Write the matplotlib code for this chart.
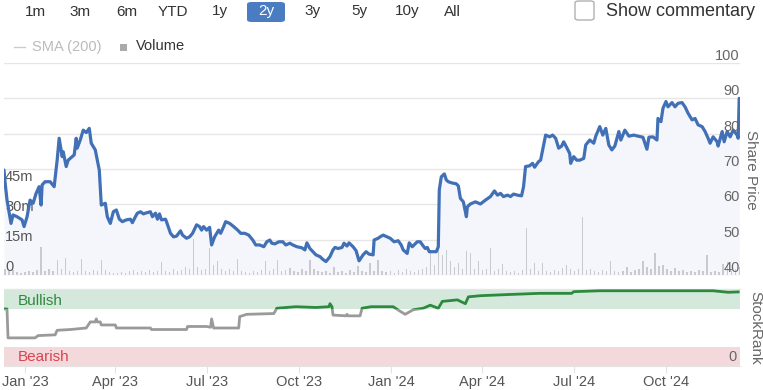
import numpy as np
import matplotlib
matplotlib.use("Agg")
import matplotlib.pyplot as plt
import matplotlib.dates as mdates
from matplotlib.patches import FancyBboxPatch, Rectangle
import datetime as dt

plt.rcParams['font.family'] = ['Liberation Sans', 'DejaVu Sans']

# ---------------- data ----------------
# days counted from 1 Jan 2023
price_days = [
    -21, -20, -18, -14, -12, -8, -3, -1, 2, 5,
    8, 11, 14, 16, 17, 20, 25, 29, 32, 34,
    37, 38, 41, 43, 47, 49, 51, 52, 55, 58,
    61, 64, 66, 70, 72, 74, 76, 80, 82, 85,
    88, 91, 94, 97, 101, 105, 107, 110, 112, 115,
    118, 121, 125, 127, 130, 132, 134, 136, 140, 141,
    145, 148, 151, 155, 157, 161, 164, 167, 171, 174,
    176, 178, 181, 184, 186, 189, 193, 195, 198, 200,
    204, 208, 212, 215, 219, 223, 227, 230, 234, 238,
    241, 244, 246, 249, 253, 257, 260, 264, 267, 271,
    276, 279, 281, 284, 287, 290, 294, 297, 300, 304,
    307, 309, 312, 316, 318, 321, 323, 327, 330, 333,
    337, 340, 343, 347, 348, 352, 354, 357, 364, 368,
    372, 375, 377, 381, 383, 386, 391, 394, 397, 399,
    401, 403, 407, 410, 412, 413, 415, 418, 420, 422,
    425, 430, 432, 434, 437, 440, 441, 444, 449, 454,
    459, 464, 468, 471, 474, 477, 481, 484, 487, 491,
    495, 497, 499, 503, 506, 508, 512, 514, 517, 519,
    523, 526, 529, 532, 535, 537, 540, 543, 544, 547,
    550, 553, 557, 559, 563, 567, 569, 573, 576, 579,
    582, 585, 588, 592, 594, 598, 602, 607, 611, 616,
    620, 622, 626, 630, 631, 634, 636, 639, 641, 645,
    648, 651, 655, 658, 661, 665, 668, 671, 675, 678,
    681, 683, 686, 690, 691, 695, 697, 700, 703, 706,
    710, 711, 712]
price_values = [
    69.7, 66.4, 61.2, 54.6, 57.0, 56.5, 55.6, 53.7, 56.5, 61.2,
    60.3, 63.1, 65.0, 59.8, 65.5, 66.4, 66.4, 65.0, 72.5, 78.7,
    73.5, 74.9, 70.7, 72.5, 73.5, 74.0, 78.7, 75.9, 78.2, 81.0,
    80.3, 81.5, 77.3, 75.4, 72.5, 69.7, 59.8, 60.3, 56.5, 54.6,
    57.9, 58.4, 55.8, 55.1, 55.6, 55.8, 54.8, 56.5, 57.5, 57.9,
    57.3, 57.6, 57.9, 56.5, 57.5, 55.8, 57.3, 55.6, 55.8, 55.1,
    51.8, 50.8, 51.0, 52.5, 51.3, 50.4, 50.8, 51.8, 54.2, 53.7,
    52.7, 53.7, 52.7, 53.5, 48.5, 50.8, 52.7, 51.8, 53.7, 55.1,
    54.6, 53.7, 52.7, 51.8, 51.8, 51.3, 49.9, 48.5, 48.5, 48.0,
    49.4, 49.9, 49.0, 48.8, 49.4, 49.4, 48.5, 49.0, 48.5, 48.0,
    47.7, 47.1, 49.1, 47.5, 46.6, 45.7, 45.2, 44.4, 43.8, 45.2,
    47.1, 47.8, 47.5, 47.8, 49.0, 48.2, 49.1, 48.0, 46.9, 44.0,
    45.7, 46.6, 45.9, 45.7, 49.9, 50.4, 50.8, 51.3, 50.4, 49.4,
    49.7, 48.5, 47.1, 46.1, 49.1, 48.0, 49.4, 49.4, 48.2, 47.5,
    47.8, 46.6, 46.6, 46.6, 48.0, 64.1, 67.8, 68.6, 66.9, 66.4,
    66.1, 65.8, 65.2, 61.7, 60.7, 56.5, 59.3, 60.1, 60.7, 60.1,
    61.2, 62.2, 63.8, 62.6, 63.1, 62.2, 62.6, 62.2, 62.9, 62.6,
    62.4, 65.0, 70.7, 70.9, 71.6, 70.5, 72.1, 72.5, 76.8, 79.6,
    79.1, 79.6, 78.7, 75.9, 76.5, 77.7, 76.1, 74.4, 71.6, 73.5,
    72.5, 72.5, 73.0, 76.8, 78.2, 77.3, 79.3, 82.0, 79.6, 81.5,
    76.8, 75.4, 76.5, 80.6, 78.2, 81.0, 79.3, 79.6, 79.3, 79.0,
    75.6, 79.0, 79.1, 78.2, 84.3, 83.4, 87.2, 89.1, 87.6, 88.8,
    87.6, 88.6, 88.8, 87.6, 85.8, 83.9, 84.3, 82.5, 82.0, 80.6,
    78.7, 77.3, 79.1, 77.7, 76.5, 80.6, 77.7, 80.6, 79.1, 81.0,
    79.6, 78.7, 90.0]

volume_days = list(range(-20, 713, 4))
volume_millions = [
    3, 2, 2.5, 1.5, 1, 1.5, 2, 1.5, 2.5, 14,
    2, 3, 2, 7.5, 3, 8.5, 2, 1.5, 2, 8,
    2, 1.5, 2.5, 2, 7.5, 2.5, 1.5, 1, 1, 1.5,
    1, 2, 2.5, 1.5, 2, 1.5, 2.5, 1.5, 2, 6.5,
    2, 1.5, 3, 2, 2.5, 4, 3, 18, 4, 2.5,
    3, 13.5, 5, 7, 3, 2, 3, 2, 8, 2,
    1.5, 1, 2, 1.5, 2.5, 7, 2, 3, 7.5, 2,
    2.5, 3.5, 2, 1.5, 3, 2, 7.5, 3, 2, 1.5,
    2, 1, 4, 1.5, 2, 1, 2.5, 1.5, 4.5, 2,
    1.5, 6, 2, 7.5, 2, 1.5, 2, 1, 2.5, 1.5,
    3, 2, 1.5, 2.5, 3, 4, 11, 5, 18.5, 10,
    12.5, 7, 4, 6, 3, 12, 11, 3, 7, 2.5,
    3, 13.5, 2, 3, 5.5, 2, 1.5, 2, 1, 2.5,
    23.5, 3, 6, 2, 6, 2, 1.5, 2.5, 2, 3.5,
    5, 3, 2, 3, 29, 2.5, 3, 2, 1.5, 2.5,
    2, 7, 2, 1.5, 2, 4, 1.5, 2.5, 3, 7,
    4, 3, 11, 4.5, 5, 3, 2, 3.5, 2, 2.5,
    1.5, 2, 1.5, 2.5, 2, 10, 1.5, 2, 1.5, 5.5,
    6.5, 2, 3, 4]

rank_days = [
    -21, -18, -17, 10, 13, 30, 32, 45, 61, 65,
    70, 71, 72, 75, 76, 90, 91, 125, 126, 161,
    162, 181, 185, 186, 188, 213, 214, 221, 248, 251,
    270, 290, 303, 304, 306, 307, 320, 321, 322, 334,
    336, 345, 353, 367, 374, 379, 387, 397, 404, 412,
    416, 431, 439, 442, 454, 481, 513, 545, 547, 573,
    686, 701, 711]
rank_values = [
    75, 75, 37, 37, 40, 41, 47, 48, 50, 58,
    58, 62, 58, 58, 54, 54, 50, 50, 48, 48,
    52, 52, 51, 62, 50, 50, 65, 68, 69, 76,
    78, 77, 78, 82, 78, 67, 66, 68, 66, 66,
    76, 78, 78, 78, 72, 68, 74, 76, 80, 76,
    85, 87, 82, 91, 92.5, 94, 95.6, 95.6, 97.8, 99,
    99, 97, 97.5]

price_ticks = [40, 50, 60, 70, 80, 90, 100]
volume_ticks = [0, 15, 30, 45]
volume_tick_labels = ['0', '15m', '30m', '45m']
month_ticks = [dt.date(2023, 1, 1), dt.date(2023, 4, 1), dt.date(2023, 7, 1),
               dt.date(2023, 10, 1), dt.date(2024, 1, 1), dt.date(2024, 4, 1),
               dt.date(2024, 7, 1), dt.date(2024, 10, 1)]
month_labels = ["Jan '23", "Apr '23", "Jul '23", "Oct '23",
                "Jan '24", "Apr '24", "Jul '24", "Oct '24"]
range_buttons = ['1m', '3m', '6m', 'YTD', '1y', '2y', '3y', '5y', '10y', 'All']
selected_range = '2y'

# ---------------- layout ----------------
W, H = 763, 390
fig = plt.figure(figsize=(W / 100, H / 100), dpi=100)
base = mdates.date2num(dt.date(2023, 1, 1))


def X(days):
    return base + np.asarray(days, dtype=float)


def fig_xy(px, py):
    return px / W, 1 - py / H


L, R = 4, 740
P_TOP, P_BOT = 63, 275
K_TOP, K_BOT = 290, 366
xlim = (X(-21), X(712.8))

rect_p = [L / W, 1 - P_BOT / H, (R - L) / W, (P_BOT - P_TOP) / H]
ax_p = fig.add_axes(rect_p)
ax_v = fig.add_axes(rect_p)
ax_l = fig.add_axes(rect_p)
for a in (ax_p, ax_v, ax_l):
    a.set_xlim(*xlim)
    a.axis('off')
    a.patch.set_alpha(0)
ax_p.set_ylim(40, 100)
ax_l.set_ylim(40, 100)
ax_v.set_ylim(0, 106)

for v in price_ticks:
    ax_p.axhline(v, color='#e6e6e6', lw=1, zorder=1)
ax_p.fill_between(X(price_days), price_values, 40, color='#f4f6fb', lw=0, zorder=2)
ax_v.bar(X(volume_days), volume_millions, width=1.3, color='#c9cacf', lw=0)
ax_l.plot(X(price_days), price_values, color='#4170b6', lw=2.3,
          solid_joinstyle='round', solid_capstyle='round')

for v in price_ticks:
    ax_l.annotate(str(v), xy=(1, v), xycoords=('axes fraction', 'data'),
                  xytext=(0, 7), textcoords='offset pixels', ha='right',
                  va='center', fontsize=10.5, color='#666666')
for v, lab in zip(volume_ticks, volume_tick_labels):
    ax_v.annotate(lab, xy=(0, v), xycoords=('axes fraction', 'data'),
                  xytext=(1, 8), textcoords='offset pixels', ha='left',
                  va='center', fontsize=10.5, color='#555555')
fig.text(*fig_xy(751, 170), 'Share Price', rotation=270, ha='center',
         va='center', fontsize=11, color='#666666')

# ---------------- StockRank panel ----------------
ax_k = fig.add_axes([L / W, 1 - K_BOT / H, (R - L) / W, (K_BOT - K_TOP) / H])
ax_k.set_xlim(*xlim)
ax_k.set_ylim(0, 100)
ax_k.axhspan(75, 100, color='#d5e8dc', lw=0)
ax_k.axhspan(0, 25, color='#f4d9dc', lw=0)
ax_k.axhline(101.3, color='#e6e6e6', lw=1, clip_on=False)
for s in ('top', 'left', 'right'):
    ax_k.spines[s].set_visible(False)
ax_k.spines['bottom'].set_color('#e3e3e3')
ax_k.set_yticks([])
ax_k.set_xticks([mdates.date2num(d) for d in month_ticks])
ax_k.set_xticklabels(month_labels, fontsize=10.5, color='#555555')
ax_k.tick_params(axis='x', length=5, color='#e3e3e3', pad=1.5)
ax_k.patch.set_alpha(0)

thr = 75.5
g_line, = ax_k.plot(X(rank_days), rank_values, color='#9a9a9a', lw=2.0)
k_line, = ax_k.plot(X(rank_days), rank_values, color='#2b8a3e', lw=2.0)
g_line.set_clip_path(Rectangle((xlim[0], -10), xlim[1] - xlim[0], thr + 10,
                               transform=ax_k.transData))
k_line.set_clip_path(Rectangle((xlim[0], thr), xlim[1] - xlim[0], 30,
                               transform=ax_k.transData))

ax_k.annotate('Bullish', xy=(0, 86), xycoords=('axes fraction', 'data'),
              xytext=(14, 0), textcoords='offset pixels', ha='left',
              va='center', fontsize=11, color='#2f8a3f')
ax_k.annotate('Bearish', xy=(0, 12), xycoords=('axes fraction', 'data'),
              xytext=(14, 0), textcoords='offset pixels', ha='left',
              va='center', fontsize=11, color='#d9434f')
ax_k.annotate('0', xy=(1, 12), xycoords=('axes fraction', 'data'),
              xytext=(-3, 0), textcoords='offset pixels', ha='right',
              va='center', fontsize=10.5, color='#666666')
fig.text(*fig_xy(755, 328), 'StockRank', rotation=270, ha='center',
         va='center', fontsize=11, color='#666666')

# ---------------- header ----------------
btn_x = [35, 80, 127, 173, 220, 266, 313, 359, 407, 452]
for bx, lab in zip(btn_x, range_buttons):
    if lab == selected_range:
        box = FancyBboxPatch(((bx - 19) / W, 1 - 22 / H), 38 / W, 20 / H,
                             boxstyle='round,pad=0,rounding_size=0.006',
                             transform=fig.transFigure, fc='#4a7cc2', ec='none')
        fig.patches.append(box)
        col = 'white'
    else:
        col = '#333333'
    fig.text(*fig_xy(bx, 11.5), lab, ha='center', va='center', fontsize=11,
             color=col)

cb = FancyBboxPatch((575 / W, 1 - 20 / H), 19 / W, 19 / H,
                    boxstyle='round,pad=0,rounding_size=0.005',
                    transform=fig.transFigure, fc='white', ec='#b0b0b0', lw=1)
fig.patches.append(cb)
fig.text(*fig_xy(606, 11.5), 'Show commentary', ha='left', va='center',
         fontsize=13, color='#333333')

fig.add_artist(plt.Line2D([14 / W, 25 / W], [1 - 46.5 / H] * 2,
                          transform=fig.transFigure, color='#cccccc', lw=1))
fig.text(*fig_xy(32, 46.5), 'SMA (200)', ha='left', va='center',
         fontsize=10.5, color='#bbbbbb')
fig.patches.append(Rectangle((120 / W, 1 - 51 / H), 7 / W, 7 / H,
                             transform=fig.transFigure, fc='#aaaaaa', ec='none'))
fig.text(*fig_xy(136, 46.5), 'Volume', ha='left', va='center',
         fontsize=10.5, color='#333333')

fig.savefig('out.png', dpi=100)
